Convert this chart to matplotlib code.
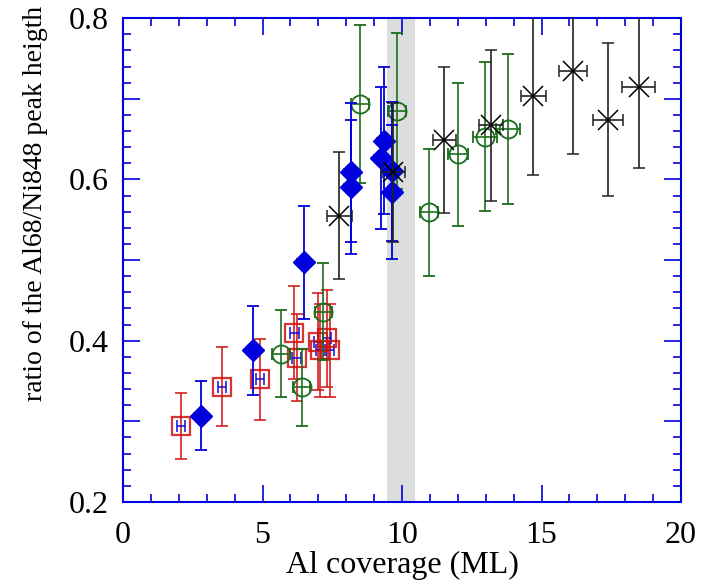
import matplotlib
matplotlib.use('Agg')
import matplotlib.pyplot as plt
from matplotlib.ticker import MultipleLocator, FuncFormatter

plt.rcParams['font.family'] = ['Liberation Serif', 'DejaVu Serif']

# red open squares
sq_x = [2.08, 3.54, 4.91, 6.14, 6.22, 7.00, 7.30, 7.06, 7.42]
sq_y = [0.294, 0.343, 0.352, 0.410, 0.379, 0.399, 0.403, 0.388, 0.388]
sq_yerr = [0.041, 0.049, 0.050, 0.058, 0.054, 0.060, 0.060, 0.058, 0.058]
sq_xerr = [0.15, 0.15, 0.15, 0.15, 0.15, 0.15, 0.15, 0.15, 0.15]

# green open circles
ci_x = [5.66, 6.40, 7.18, 8.50, 9.81, 10.97, 12.02, 12.97, 13.81]
ci_y = [0.384, 0.342, 0.436, 0.693, 0.685, 0.559, 0.631, 0.653, 0.662]
ci_yerr = [0.054, 0.048, 0.060, 0.098, 0.097, 0.079, 0.089, 0.092, 0.093]
ci_xerr = [0.32, 0.30, 0.30, 0.33, 0.33, 0.33, 0.36, 0.42, 0.43]

# blue filled diamonds
dm_x = [2.80, 4.67, 6.49, 8.17, 8.17, 9.24, 9.35, 9.63, 9.65]
dm_y = [0.307, 0.388, 0.497, 0.609, 0.591, 0.627, 0.648, 0.610, 0.584]
dm_yerr = [0.043, 0.055, 0.070, 0.086, 0.083, 0.088, 0.091, 0.086, 0.083]
dm_xerr = [0.24, 0.24, 0.24, 0.24, 0.24, 0.24, 0.24, 0.24, 0.24]

# black crosses
xx_x = [7.75, 9.69, 11.52, 13.18, 14.71, 16.12, 17.37, 18.49]
xx_y = [0.555, 0.609, 0.649, 0.667, 0.704, 0.734, 0.674, 0.714]
xx_yerr = [0.079, 0.086, 0.091, 0.094, 0.099, 0.103, 0.095, 0.100]
xx_xerr = [0.45, 0.40, 0.42, 0.43, 0.46, 0.50, 0.54, 0.59]

band = (9.45, 10.45)

red = '#d01010'
blue = '#0000dd'
green = '#1b6e1b'

fig = plt.figure(figsize=(7.01, 5.85), dpi=100)
ax = fig.add_axes([0.1755, 0.1419, 0.796, 0.8271])

ax.axvspan(band[0], band[1], color='#dcdddd', lw=0, zorder=0)

# squares
ax.errorbar(sq_x, sq_y, yerr=sq_yerr, fmt='none', ecolor=red, elinewidth=1.3,
            capsize=4.5, capthick=1.3, alpha=0.85, zorder=2)
ax.errorbar(sq_x, sq_y, xerr=sq_xerr, fmt='none', ecolor=blue, elinewidth=1.3,
            capsize=4, capthick=1.3, alpha=0.8, zorder=3)
ax.plot(sq_x, sq_y, 's', ms=12.5, mfc='none', mec=red, mew=1.6, alpha=0.85, zorder=3)

# circles
ax.errorbar(ci_x, ci_y, yerr=ci_yerr, xerr=ci_xerr, fmt='o', ms=13, mfc='none',
            mec=green, mew=1.3, ecolor=green, elinewidth=1.2, capsize=4.5,
            capthick=1.2, color=green, zorder=4)

# diamonds
ax.errorbar(dm_x, dm_y, yerr=dm_yerr, fmt='none', ecolor=blue, elinewidth=1.3,
            capsize=4.5, capthick=1.3, zorder=5)
ax.errorbar(dm_x, dm_y, xerr=dm_xerr, fmt='none', ecolor=red, elinewidth=1.3,
            capsize=3, capthick=1.3, zorder=5)
ax.plot(dm_x, dm_y, 'D', ms=11, color=blue, mec=blue, zorder=6)

# crosses
ax.errorbar(xx_x, xx_y, yerr=xx_yerr, xerr=xx_xerr, fmt='x', ms=14, mew=1.1,
            color='black', ecolor='#222222', elinewidth=1.2, capsize=4,
            capthick=1.2, zorder=7)

ax.set_xlim(0, 20)
ax.set_ylim(0.2, 0.8)
ax.xaxis.set_major_locator(MultipleLocator(5))
ax.xaxis.set_minor_locator(MultipleLocator(1))
ax.yaxis.set_major_locator(MultipleLocator(0.1))
ax.yaxis.set_minor_locator(MultipleLocator(0.02))
ax.yaxis.set_major_formatter(FuncFormatter(
    lambda v, p: f'{v:.1f}' if round(v * 10) % 2 == 0 else ''))

ax.tick_params(which='both', direction='in', top=True, right=True,
               color=blue, labelsize=23)
ax.tick_params(axis='x', pad=14)
ax.tick_params(axis='y', pad=10)
ax.tick_params(which='major', length=12, width=1.2)
ax.tick_params(which='minor', length=6, width=1.2)
for s in ax.spines.values():
    s.set_color(blue)
    s.set_linewidth(1.5)

ax.set_xlabel('Al coverage (ML)', fontsize=23, labelpad=0)
ax.set_ylabel('ratio of the Al68/Ni848 peak heigth', fontsize=20)
ax.yaxis.set_label_coords(-0.135, 0.618)

fig.savefig('out.png', dpi=100)
